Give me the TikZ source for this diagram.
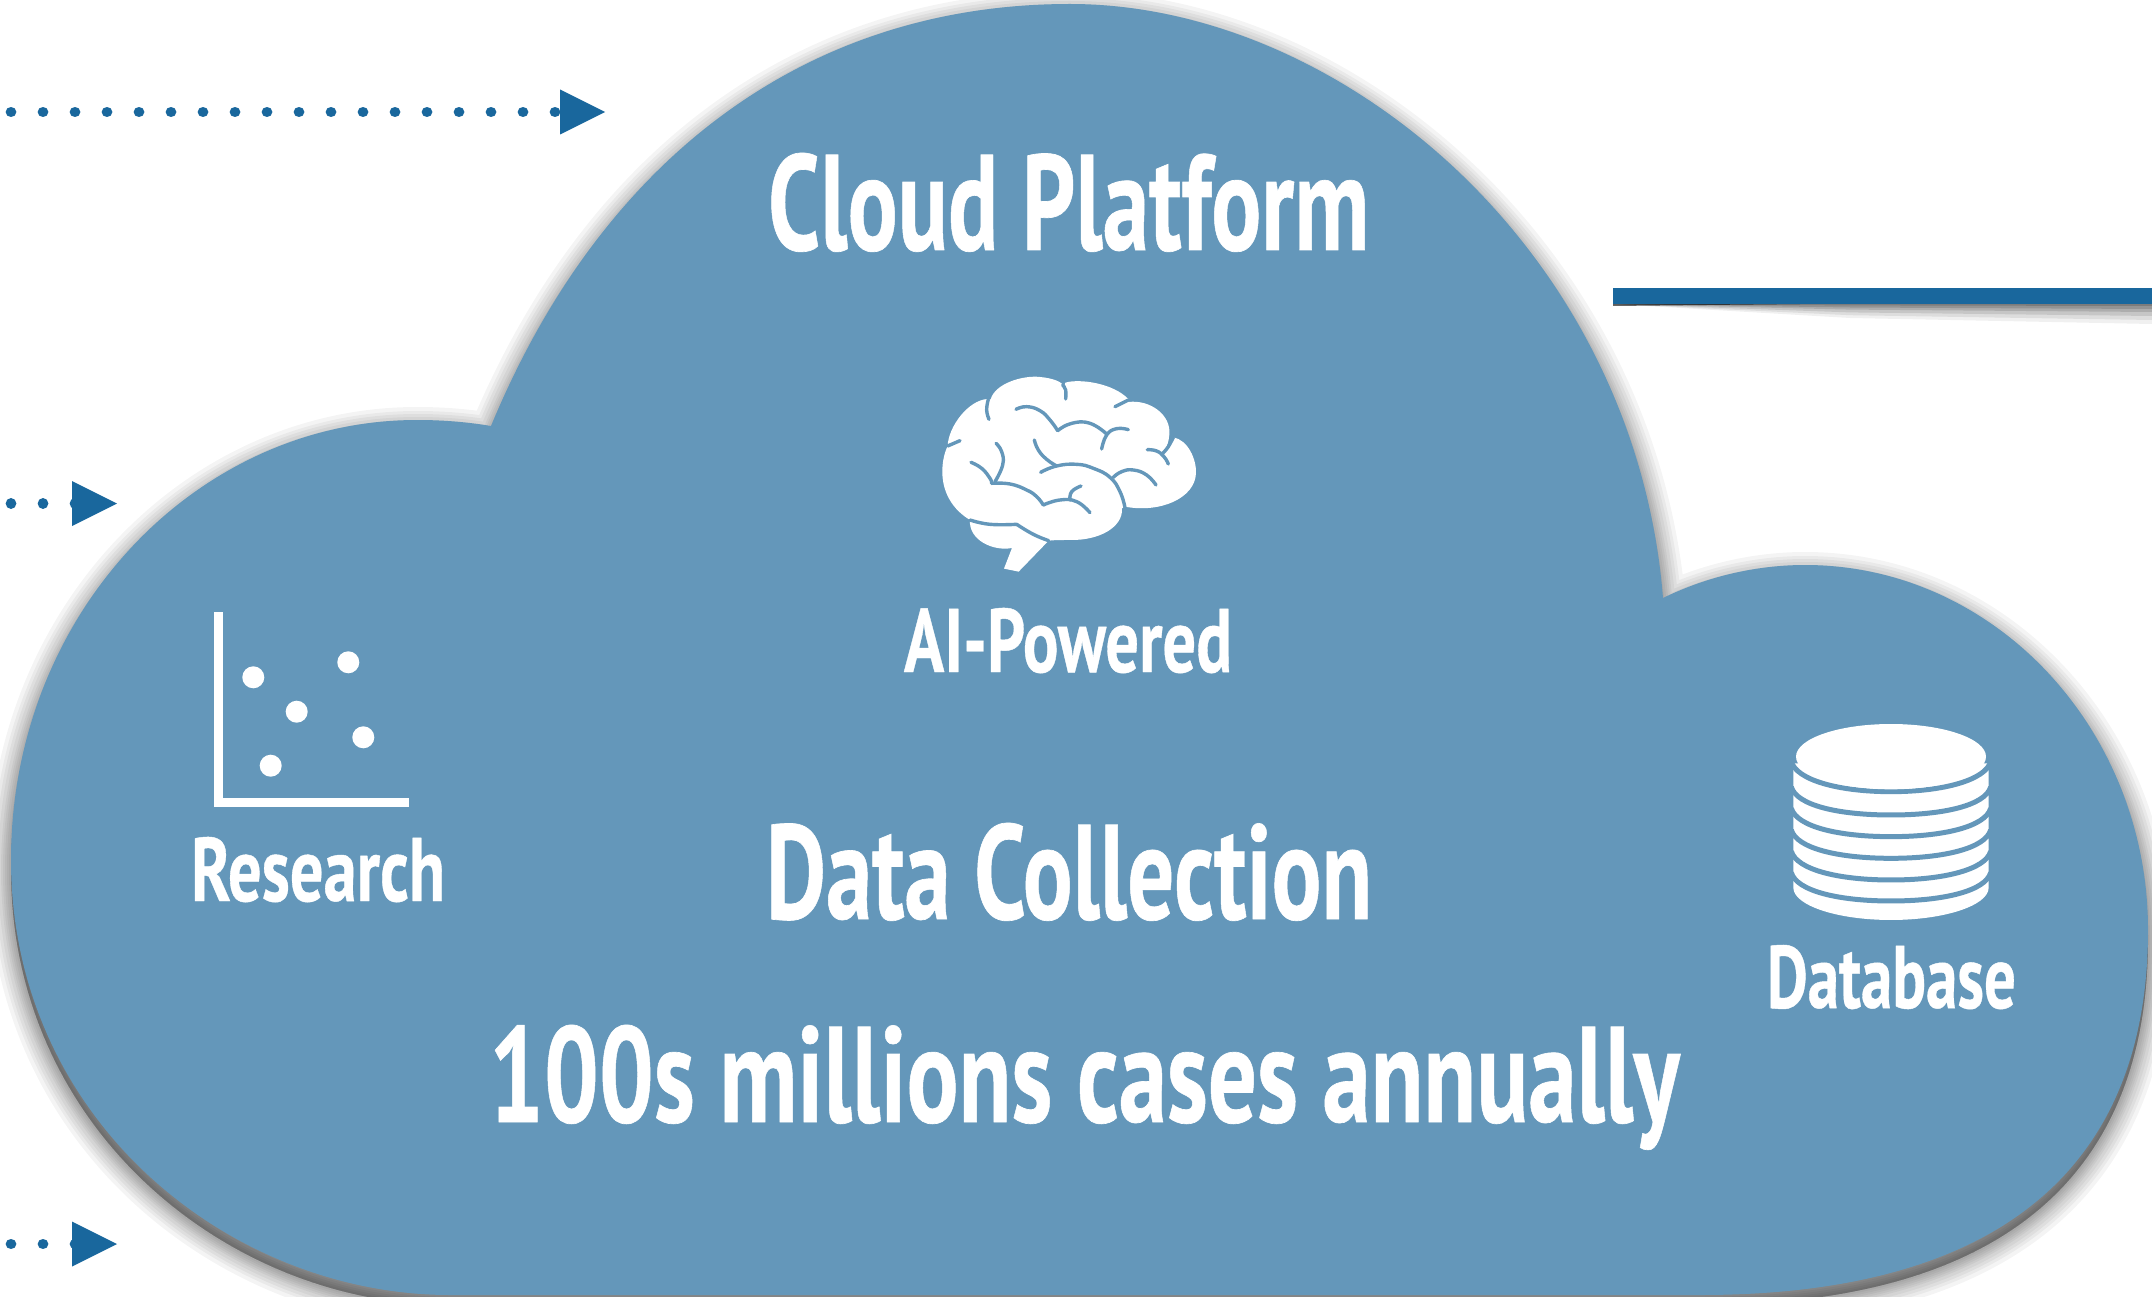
\documentclass[tikz,border=0pt]{standalone}
\usepackage{fontspec}
\usepackage{graphicx}
\setmainfont{Liberation Sans}
\newfontfamily\dinfont[UprightFont=* Bold,FakeBold=0.5]{PT Sans}
\usetikzlibrary{arrows.meta,calc}
\definecolor{cloudblue}{RGB}{100,151,186}
\definecolor{arrowblue}{RGB}{25,103,157}
\newcommand{\fitlabel}[3]{\resizebox{#1pt}{#2pt}{\dinfont #3}}
\newcommand{\cloudP}{
  (491,426) .. controls (599,165) and (800,4) .. (1070,4)
  .. controls (1340,4) and (1635,250) .. (1663,598)
  .. controls (1710,575) and (1760,565) .. (1805,565)
  .. controls (1995,565) and (2148,730) .. (2148,930)
  .. controls (2148,1150) and (2020,1295) .. (1700,1295)
  -- (450,1295)
  .. controls (230,1295) and (11,1120) .. (11,860)
  .. controls (11,615) and (195,420) .. (417,420)
  .. controls (443,420) and (467,422) .. (491,426)
  -- cycle}
\tikzset{
  x=1pt,y=-1pt,
  dotline/.style={arrowblue,line width=10.7pt,line cap=round,dash pattern=on 0.01pt off 31.99pt},
  headline/.style={arrowblue,line width=0.01pt,-{Triangle[length=45pt,width=45pt,line width=0pt]}},
  bigtext/.style={anchor=base west,inner sep=0pt,outer sep=0pt,text=white},
  slit/.style={cloudblue,line width=3.4pt,line cap=round,line join=round},
  dbring/.style={cloudblue,line width=5pt},
  barline/.style={arrowblue,line width=16pt},
  pointdot/.style={white,fill=white},
  brainc/.style={smooth,tension=0.8}
}
\begin{document}
\begin{tikzpicture}
\useasboundingbox (0,0) rectangle (2152,1297);
\fill[white] (0,0) rectangle (2152,1297);
\clip (0,0) rectangle (2152,1297);

% arrows
\coordinate (s1) at (11,112);  \coordinate (b1) at (560,112);  \coordinate (t1) at (605,112);
\coordinate (s2) at (11,503.5);\coordinate (b2) at (72,503.5); \coordinate (t2) at (117,503.5);
\coordinate (s3) at (11,1244); \coordinate (b3) at (72,1244);  \coordinate (t3) at (117,1244);
\draw[dotline] (s1) -- ($(b1)+(-4,0)$);
\draw[headline] (b1) -- (t1);
\draw[dotline] (s2) -- ($(b2)+(4,0)$);
\draw[headline] (b2) -- (t2);
\draw[dotline] (s3) -- ($(b3)+(4,0)$);
\draw[headline] (b3) -- (t3);

% cloud shadow
\foreach \w in {46,38,32,26,20,16,12,8,4}{
  \path[shift={(0,10)},fill=black,draw=black,fill opacity=0.045,draw opacity=0.045,line width=\w pt,line join=round] \cloudP;
}
\fill[cloudblue] \cloudP;

% bar with shadow
\coordinate (bl) at (1613,296); \coordinate (br) at (2152,296);
\foreach \h/\o in {20/0.06,16/0.08,12/0.10,8/0.12,5/0.14,2/0.16}{
  \fill[black,opacity=\o] (1613,304) -- (2152,304) -- (2152,304+\h) -- (1850,304+0.7*\h) -- cycle;
}
\fill[black,opacity=0.6] (1613,304) -- (1800,304) -- (1613,306) -- cycle;
\draw[barline] (bl) -- (br);

% texts
\node[bigtext] (cloud) at (768,250) {\fitlabel{601}{97}{Cloud Platform}};
\node[bigtext] (ai) at (904,672) {\fitlabel{328}{64}{AI-Powered}};
\node[bigtext] (research) at (191,901) {\fitlabel{254}{64}{Research}};
\node[bigtext] (database) at (1767,1008) {\fitlabel{249}{63}{Database}};
\node[bigtext] (collect) at (766,919) {\fitlabel{606}{96}{Data Collection}};
\node[bigtext] (cases) at (489,1122) {\fitlabel{1190}{97}{100s millions cases annually}};

% scatter icon
\draw[white,line width=8.7pt] (218.7,612) -- (218.7,802.4) -- (409,802.4);
\foreach \p/\q in {253.3/677.3,348.3/662.3,296.7/711.7,363.3/737.3,270.7/765.7}{
  \fill[pointdot] (\p,\q) circle[radius=11];
}

% database icon
\begin{scope}[shift={(1760,700)},x=0.3333pt,y=-0.3333pt]
  \fill[white] (100,190) -- (686,190) -- (686,563)
     .. controls (686,616) and (555,660) .. (393,660)
     .. controls (231,660) and (100,616) .. (100,563) -- cycle;
  \foreach \a/\c in {185/275,261/345,325/410,390/475,454/540,518/603}{
    \draw[dbring] (94,\a) .. controls (110,{\a+55}) and (235,\c) .. (393,\c)
                  .. controls (551,\c) and (676,{\a+55}) .. (692,\a);
  }
  \fill[cloudblue] (94,165) rectangle (108,188);
  \fill[cloudblue] (678,165) rectangle (692,188);
  \fill[white] (108,170) .. controls (108,116) and (235,72) .. (393,72)
     .. controls (551,72) and (678,116) .. (678,170)
     .. controls (678,224) and (551,268) .. (393,268)
     .. controls (235,268) and (108,224) .. (108,170) -- cycle;
\end{scope}

% brain icon
\begin{scope}[shift={(880,340)},x=0.3333pt,y=-0.3333pt]
  \fill[white] (203,318) .. controls (205,260) and (265,180) .. (323,177)
    -- (332,178) .. controls (345,130) and (430,105) .. (480,111)
    .. controls (515,114) and (548,125) .. (552,140)
    -- (556,128) .. controls (600,115) and (700,130) .. (745,177)
    -- (745,186) .. controls (810,178) and (875,225) .. (868,285)
    .. controls (866,305) and (862,318) .. (852,335)
    -- (880,292) .. controls (925,300) and (950,360) .. (948,400)
    .. controls (945,475) and (840,520) .. (735,500)
    -- (726,505) .. controls (730,560) and (660,602) .. (570,600)
    .. controls (548,600) and (525,600) .. (506,602)
    -- (416,695) -- (372,686) -- (396,624)
    .. controls (340,635) and (265,600) .. (270,540)
    .. controls (220,510) and (187,460) .. (187,395)
    .. controls (187,360) and (195,335) .. (203,318)
    -- cycle;
  \draw[slit] (203,318) -- (240,302);
  \draw[slit] plot[brainc] coordinates {(325,178)(320,210)(327,238)};
  \draw[slit] plot[brainc] coordinates {(548,135)(557,150)(557,177)};
  \draw[slit] (745,180) -- (705,200);
  \draw[slit] plot[brainc] coordinates {(408,208)(440,200)(480,212)(510,240)(533,272)};
  \draw[slit] plot[brainc] coordinates {(533,272)(575,250)(630,250)(680,282)};
  \draw[slit] plot[brainc] coordinates {(745,269)(710,266)(680,285)(665,327)};
  \draw[slit] plot[brainc] coordinates {(463,300)(475,330)(500,358)(530,378)};
  \draw[slit] plot[brainc] coordinates {(482,397)(530,378)(590,373)(640,385)(690,412)(720,455)(735,503)};
  \draw[slit] plot[brainc] coordinates {(700,412)(725,395)(760,390)(800,405)(828,435)};
  \draw[slit] plot[brainc] coordinates {(880,292)(865,320)(850,338)};
  \draw[slit] plot[brainc] coordinates {(802,329)(830,333)(852,350)(865,372)};
  \draw[slit] plot[brainc] coordinates {(348,310)(365,335)(368,375)(345,425)};
  \draw[slit] plot[brainc] coordinates {(273,367)(305,385)(330,415)(335,430)};
  \draw[slit] plot[brainc] coordinates {(335,430)(390,432)(440,450)(470,470)(490,495)};
  \draw[slit] plot[brainc] coordinates {(490,495)(540,480)(590,485)(630,518)};
  \draw[slit] plot[brainc] coordinates {(570,480)(575,455)(603,438)};
  \draw[slit] plot[brainc] coordinates {(270,540)(330,553)(410,553)};
  \draw[slit] plot[brainc] coordinates {(410,553)(460,583)(506,602)};
\end{scope}
\end{tikzpicture}
\end{document}
